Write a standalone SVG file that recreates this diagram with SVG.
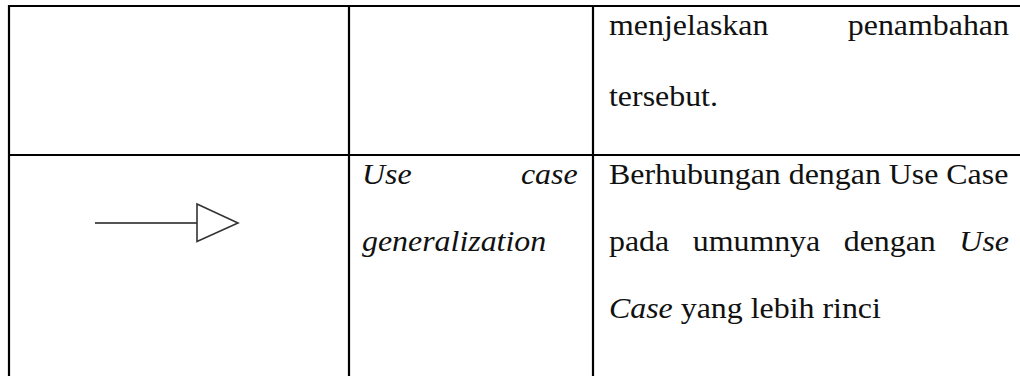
<svg xmlns="http://www.w3.org/2000/svg" width="1020" height="376" viewBox="0 0 1020 376">
  <style>
    .grid { stroke: #000; stroke-width: 2.2; fill: none; }
    .txt { font-family: "Liberation Serif", "Times New Roman", serif; font-size: 29px; fill: #111; }
    .it { font-style: italic; }
    .sym-line { stroke: #555; stroke-width: 2; fill: none; }
    .sym-head { stroke: #333; stroke-width: 1.6; fill: #fff; stroke-linejoin: miter; }
  </style>
  <rect width="1020" height="376" fill="#fff"/>

  <!-- table borders -->
  <g id="table-grid" class="grid">
    <line x1="8" y1="6" x2="1020" y2="6"/>
    <line x1="9" y1="5" x2="9" y2="376"/>
    <line x1="8" y1="155" x2="1020" y2="155"/>
    <line x1="349" y1="5" x2="349" y2="376"/>
    <line x1="593" y1="5" x2="593" y2="376"/>
  </g>

  <!-- row 1: tail of the previous description (glyphs slightly widened) -->
  <g id="row1-description" class="txt" transform="translate(609 0) scale(1.1 1)">
    <text x="0" y="35">menjelaskan</text>
    <text x="363.6" y="35" text-anchor="end">penambahan</text>
    <text x="0" y="106">tersebut.</text>
  </g>

  <!-- row 2: generalization symbol -->
  <g id="row2-symbol">
    <line class="sym-line" x1="95" y1="223" x2="197" y2="223"/>
    <polygon class="sym-head" points="197,204 238,223 197,241.5"/>
  </g>

  <!-- row 2: name -->
  <g id="row2-name" class="txt it" transform="translate(362 0) scale(1.1 1)">
    <text x="0" y="184">Use</text>
    <text x="196" y="184" text-anchor="end">case</text>
    <text x="0" y="251">generalization</text>
  </g>

  <!-- row 2: description, justified words -->
  <g id="row2-description" class="txt" transform="translate(609 0) scale(1.1 1)">
    <text x="0" y="184">Berhubungan dengan Use Case</text>
    <text x="0" y="251">pada</text>
    <text x="76.1" y="251">umumnya</text>
    <text x="213.4" y="251">dengan</text>
    <text x="363.6" y="251" text-anchor="end" class="it">Use</text>
    <text x="0" y="318"><tspan class="it">Case</tspan> yang lebih rinci</text>
  </g>
</svg>
